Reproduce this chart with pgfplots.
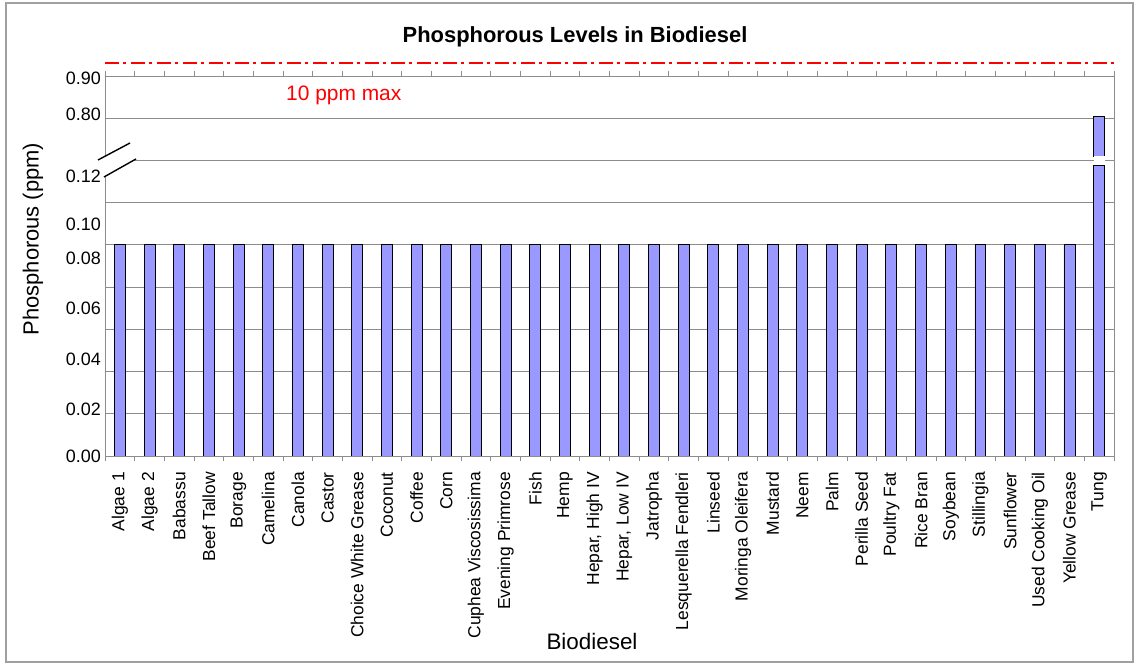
\documentclass[border=0pt]{standalone}
\usepackage{pgfplots}
\pgfplotsset{compat=1.18}
\usepackage{fontspec}
\setmainfont{Liberation Sans}
\definecolor{barblue}{HTML}{9999FF}
\definecolor{gridgray}{HTML}{8C8C8C}
\definecolor{framegray}{HTML}{A0A0A0}
\begin{document}
\begin{tikzpicture}[x=1bp,y=1bp]
\useasboundingbox (0,0) rectangle (1135,663);
\draw[framegray, line width=1.5bp] (6,1) rectangle (1133,660);
\begin{axis}[
  at={(105bp,207bp)}, anchor=south west,
  width=1009bp, height=380bp, scale only axis,
  ybar stacked, bar width=0.37,
  xmin=-0.5, xmax=33.5, ymin=0, ymax=9,
  axis line style={gridgray, line width=0.8bp},
  xtick={0,...,33},
  xticklabels={Algae 1, Algae 2, Babassu, Beef Tallow, Borage, Camelina, Canola, Castor, Choice White Grease, Coconut, Coffee, Corn, Cuphea Viscosissima, Evening Primrose, Fish, Hemp, {Hepar, High IV}, {Hepar, Low IV}, Jatropha, Lesquerella Fendleri, Linseed, Moringa Oleifera, Mustard, Neem, Palm, Perilla Seed, Poultry Fat, Rice Bran, Soybean, Stillingia, Sunflower, Used Cooking Oil, Yellow Grease, Tung},
  xticklabel style={yshift=-16bp, rotate=90, anchor=east, inner sep=0pt, font=\fontsize{17.5}{19}\selectfont},
  major tick length=0,
  extra x ticks={-0.5,0.5,...,33.5},
  extra x tick labels={},
  extra x tick style={major tick length=5bp, tick align=outside, grid=none, tick style={gridgray, line width=0.8bp}},
  ytick={0,1,...,9}, yticklabels={},
  ymajorgrids, grid style={gridgray, line width=0.8bp},
  extra y ticks={0,1.11,2.30,3.49,4.68,5.49,6.63,8.09,8.95},
  extra y tick labels={0.00,0.02,0.04,0.06,0.08,0.10,0.12,0.80,0.90},
  extra y tick style={grid=none, major tick length=0},
  yticklabel style={inner sep=0pt, xshift=-4bp, font=\fontsize{18}{20}\selectfont},
  /pgf/number format/assume math mode=true,
]
\addplot[fill=barblue, draw=black, line width=0.9bp] coordinates {
(0,5) (1,5) (2,5) (3,5) (4,5) (5,5) (6,5) (7,5) (8,5) (9,5) (10,5) (11,5) (12,5) (13,5) (14,5) (15,5) (16,5) (17,5) (18,5) (19,5) (20,5) (21,5) (22,5) (23,5) (24,5) (25,5) (26,5) (27,5) (28,5) (29,5) (30,5) (31,5) (32,5) (33,6.87)};
\addplot[fill=white, draw=none] coordinates {
(0,0) (1,0) (2,0) (3,0) (4,0) (5,0) (6,0) (7,0) (8,0) (9,0) (10,0) (11,0) (12,0) (13,0) (14,0) (15,0) (16,0) (17,0) (18,0) (19,0) (20,0) (21,0) (22,0) (23,0) (24,0) (25,0) (26,0) (27,0) (28,0) (29,0) (30,0) (31,0) (32,0) (33,0.235)};
\addplot[fill=barblue, draw=black, line width=0.9bp] coordinates {
(0,0) (1,0) (2,0) (3,0) (4,0) (5,0) (6,0) (7,0) (8,0) (9,0) (10,0) (11,0) (12,0) (13,0) (14,0) (15,0) (16,0) (17,0) (18,0) (19,0) (20,0) (21,0) (22,0) (23,0) (24,0) (25,0) (26,0) (27,0) (28,0) (29,0) (30,0) (31,0) (32,0) (33,0.935)};
\end{axis}
% axis break marks
\fill[white] (98,503) -- (130,520) -- (136,504) -- (104,486) -- cycle;
\draw[black, line width=1.4bp] (98,503) -- (130,520);
\draw[black, line width=1.4bp] (104,486) -- (136,504);
% 10 ppm limit line
\draw[red, line width=2.5bp, dash pattern=on 14bp off 4bp on 3bp off 5bp] (105,600) -- (1114,600);
\node[anchor=base west, inner sep=0pt, text=red, font=\fontsize{21}{23}\selectfont] at (286,562) {10 ppm max};
% titles
\node[anchor=base, inner sep=0pt, font=\fontsize{22}{24}\selectfont\bfseries] at (575,620) {Phosphorous Levels in Biodiesel};
\node[anchor=base, inner sep=0pt, rotate=90, font=\fontsize{22}{24}\selectfont] at (38.5,424) {Phosphorous (ppm)};
\node[anchor=base, inner sep=0pt, font=\fontsize{22.5}{24}\selectfont] at (592,13) {Biodiesel};
\end{tikzpicture}
\end{document}
